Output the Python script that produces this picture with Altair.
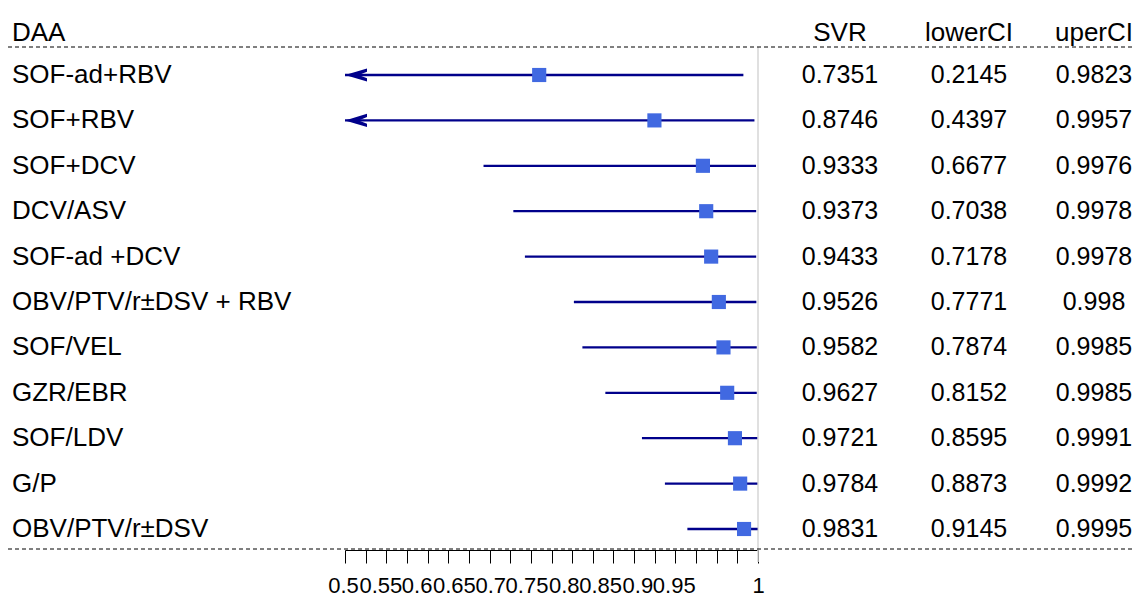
import altair as alt
import pandas as pd

daa = ["SOF-ad+RBV", "SOF+RBV", "SOF+DCV", "DCV/ASV", "SOF-ad +DCV",
       "OBV/PTV/r±DSV + RBV", "SOF/VEL", "GZR/EBR", "SOF/LDV", "G/P", "OBV/PTV/r±DSV"]
svr = [0.7351, 0.8746, 0.9333, 0.9373, 0.9433, 0.9526, 0.9582, 0.9627, 0.9721, 0.9784, 0.9831]
lower = [0.2145, 0.4397, 0.6677, 0.7038, 0.7178, 0.7771, 0.7874, 0.8152, 0.8595, 0.8873, 0.9145]
upper = [0.9823, 0.9957, 0.9976, 0.9978, 0.9978, 0.998, 0.9985, 0.9985, 0.9991, 0.9992, 0.9995]
tick_values = [0.5, 0.525, 0.55, 0.575, 0.6, 0.625, 0.65, 0.675, 0.7, 0.725, 0.75,
               0.775, 0.8, 0.825, 0.85, 0.875, 0.9, 0.925, 0.95, 0.975, 1.0]
x_min = 0.5
ref_value = 1.0

df = pd.DataFrame({
    "daa": daa, "svr": svr, "lower": lower, "upper": upper,
    "idx": list(range(len(daa))),
    "svr_s": [str(v) for v in svr],
    "lower_s": [str(v) for v in lower],
    "upper_s": [str(v) for v in upper],
})

W, H = 1125, 542
FONT = "Liberation Sans"
NAVY = "#00008B"
BLUE = "#4169E1"

# labels in the original are packed side by side rather than centred on ticks
label_shift = [(22, -6), (24, -11), (26, -15), (28, -20), (30, -25),
               (32, -29), (34, -34), (36, -38), (38, -43)]
label_offset = {
    "condition": [{"test": "round(datum.value*40) == %d" % k, "value": v}
                  for k, v in label_shift],
    "value": -2,
}
label_offset["condition"].append({"test": "round(datum.value*40) == 40", "value": 0})

xs = alt.Scale(domain=[0.5, 1.0], range=[337, 750], clamp=True, nice=False, zero=False)
ys = alt.Scale(domain=[0, 10], range=[67, 521])
xaxis = alt.Axis(
    title="", values=tick_values, grid=False, tickSize=13, tickColor="black",
    tickWidth=1, domainColor="black", domainWidth=1, labelFontSize=22,
    labelColor="black", labelFont=FONT, labelOverlap=False, labelFlush=False,
    labelPadding=12, labelOffset=label_offset,
    labelExpr="(round(datum.value*40) % 2 == 0) ? format(datum.value, '.2~f') : ''",
)

one = pd.DataFrame({"k": [0]})
base = alt.Chart(df)

ref_line = alt.Chart(pd.DataFrame({"v": [ref_value]})).mark_rule(
    color="#d6d6d6", strokeWidth=1.5
).encode(x=alt.X("v:Q", scale=xs, axis=xaxis), y=alt.value(39), y2=alt.value(H + 12))

ci = base.mark_rule(color=NAVY, strokeWidth=2.3).encode(
    x=alt.X("lower:Q", scale=xs, axis=xaxis),
    x2="upper:Q",
    y=alt.Y("idx:Q", scale=ys, axis=None),
)

arrow_path = "M0,0 L4,-1.2 L4,-0.6 L2.5,0 L4,0.6 L4,1.2 Z"
arrows = base.transform_filter(alt.datum.lower < x_min).transform_calculate(
    tip=str(x_min)
).mark_point(
    shape=arrow_path, size=121, filled=True, color=NAVY, opacity=1, strokeWidth=0.8
).encode(
    x=alt.X("tip:Q", scale=xs, axis=xaxis),
    y=alt.Y("idx:Q", scale=ys, axis=None),
)

squares = base.mark_square(size=200, color=BLUE, opacity=1).encode(
    x=alt.X("svr:Q", scale=xs, axis=xaxis),
    y=alt.Y("idx:Q", scale=ys, axis=None),
)

def col_text(field, xpos, align, size):
    return base.mark_text(font=FONT, fontSize=size, color="black", align=align,
                          baseline="middle").encode(
        x=alt.value(xpos), y=alt.Y("idx:Q", scale=ys, axis=None),
        text=alt.Text(field + ":N"))

names = col_text("daa", 4, "left", 26)
t_svr = col_text("svr_s", 832, "center", 25)
t_low = col_text("lower_s", 961, "center", 25)
t_up = col_text("upper_s", 1086, "center", 25)

def header(txt, xpos, align):
    return alt.Chart(one).mark_text(font=FONT, fontSize=26, color="black", align=align,
                                    baseline="middle").encode(
        x=alt.value(xpos), y=alt.value(25), text=alt.value(txt))

h1 = header("DAA", 4, "left")
h2 = header("SVR", 832, "center")
h3 = header("lowerCI", 961, "center")
h4 = header("uperCI", 1086, "center")

def dashed(ypos):
    return alt.Chart(one).mark_rule(color="black", strokeWidth=1, strokeDash=[4, 3]).encode(
        x=alt.value(0), x2=alt.value(W), y=alt.value(ypos))

top_dash = dashed(39)
bot_dash = dashed(541)

chart = alt.layer(
    ref_line, top_dash, bot_dash, ci, arrows, squares,
    names, t_svr, t_low, t_up, h1, h2, h3, h4,
).properties(
    width=W, height=H,
    autosize=alt.AutoSizeParams(type="none"),
    padding={"left": 0, "top": 0, "right": 0, "bottom": 46},
    background="white",
).configure_view(stroke=None)

chart.save("out.html", embed_options={"renderer": "svg", "actions": False})
